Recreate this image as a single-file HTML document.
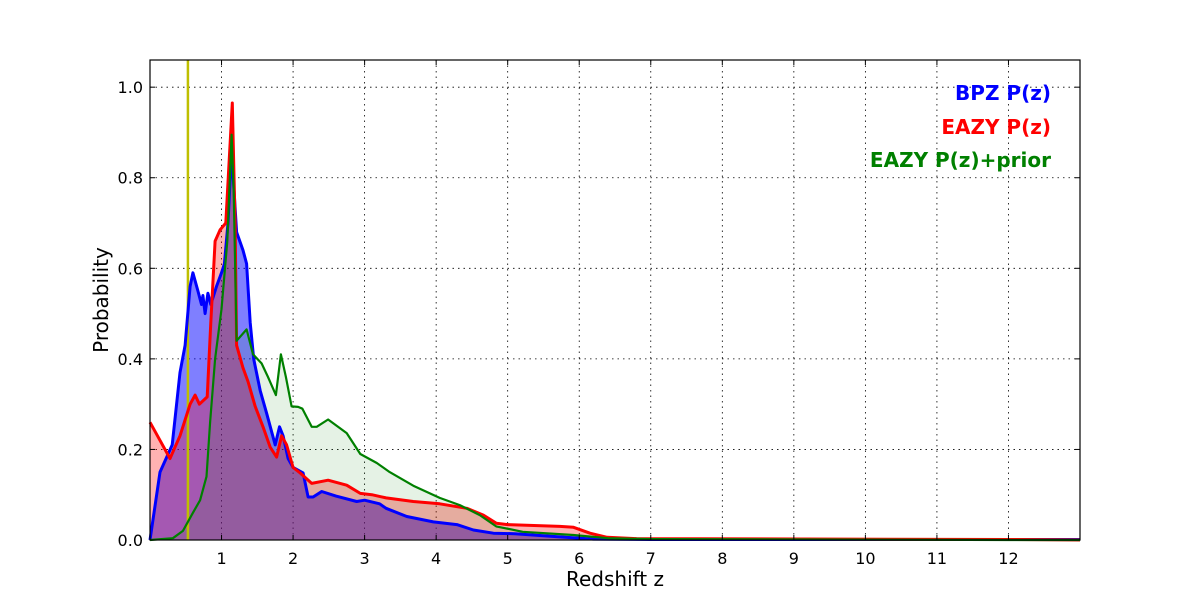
<!DOCTYPE html>
<html><head><meta charset="utf-8"><style>
html,body{margin:0;padding:0;background:#fff;}
svg{display:block;font-family:"DejaVu Sans","Liberation Sans",sans-serif;}
</style></head><body>
<svg id="chart" width="1200" height="600">
<rect x="0" y="0" width="1200" height="600" fill="#fff"/>
<g id="grid"></g>
<g id="fills"></g>
<g id="lines"></g>
<rect x="150" y="60" width="930" height="480" fill="none" stroke="#000" stroke-width="1.2"/>
<g id="ticks"></g>
<text x="615" y="586" font-size="20" text-anchor="middle">Redshift z</text>
<text x="108" y="300" font-size="20" text-anchor="middle" transform="rotate(-90 108 300)">Probability</text>
<text x="1051" y="100" font-size="20" font-weight="bold" fill="#0000ff" text-anchor="end">BPZ P(z)</text>
<text x="1051" y="134" font-size="20" font-weight="bold" fill="#ff0000" text-anchor="end">EAZY P(z)</text>
<text x="1051" y="167" font-size="20" font-weight="bold" fill="#008000" text-anchor="end">EAZY P(z)+prior</text>
</svg>
<script>
const xTicks=[1,2,3,4,5,6,7,8,9,10,11,12];
const yTicks=[0.0,0.2,0.4,0.6,0.8,1.0];
const zMarker=0.53;
const bpzZ=[0,0.14,0.31,0.42,0.49,0.56,0.6,0.67,0.72,0.74,0.77,0.81,0.85,0.93,1.0,1.04,1.09,1.14,1.21,1.3,1.35,1.4,1.45,1.54,1.63,1.75,1.81,1.86,1.93,2.0,2.14,2.21,2.28,2.4,2.6,2.89,3.0,3.21,3.3,3.59,3.96,4.29,4.52,4.8,5.1,5.7,6.2,7,13];
const bpzP=[0,0.15,0.21,0.37,0.43,0.56,0.59,0.55,0.52,0.54,0.5,0.545,0.52,0.56,0.59,0.61,0.70,0.86,0.68,0.64,0.61,0.48,0.40,0.33,0.28,0.21,0.25,0.23,0.18,0.16,0.148,0.095,0.095,0.107,0.097,0.085,0.088,0.08,0.07,0.052,0.04,0.034,0.022,0.015,0.014,0.007,0.002,0.001,0.001];
const eazyZ=[0,0.07,0.28,0.42,0.56,0.63,0.69,0.8,0.85,0.91,0.98,1.06,1.15,1.19,1.21,1.3,1.37,1.47,1.58,1.68,1.77,1.84,1.91,2.0,2.1,2.26,2.49,2.75,2.94,3.1,3.3,3.68,4.05,4.43,4.66,4.84,5.0,5.73,5.92,6.15,6.39,6.8,12,13];
const eazyP=[0.26,0.24,0.18,0.23,0.30,0.32,0.30,0.316,0.48,0.66,0.685,0.70,0.965,0.70,0.43,0.38,0.35,0.295,0.25,0.205,0.183,0.23,0.21,0.16,0.148,0.125,0.132,0.121,0.103,0.10,0.093,0.085,0.08,0.07,0.055,0.037,0.034,0.03,0.028,0.015,0.006,0.003,0.001,0];
const priorZ=[0,0.32,0.46,0.6,0.7,0.79,0.84,0.91,1.0,1.08,1.14,1.17,1.21,1.35,1.44,1.56,1.65,1.76,1.83,1.9,1.98,2.07,2.13,2.26,2.33,2.49,2.75,2.94,3.17,3.35,3.68,4.05,4.33,4.61,4.84,5.21,5.92,6.4,7,12,13];
const priorP=[0,0.004,0.02,0.06,0.088,0.14,0.26,0.40,0.51,0.66,0.895,0.77,0.44,0.465,0.41,0.39,0.36,0.32,0.41,0.36,0.295,0.294,0.29,0.25,0.25,0.266,0.236,0.19,0.17,0.15,0.12,0.093,0.077,0.055,0.03,0.018,0.011,0.004,0.002,0,0];

const X0=150,X1=1080,Y0=540,Y1=60,ZMAX=13,PMAX=1.06;
const sx=z=>X0+(z/ZMAX)*(X1-X0);
const sy=p=>Y0-(p/PMAX)*(Y0-Y1);
const NS='http://www.w3.org/2000/svg';
function mk(tag,attrs,parent){const e=document.createElementNS(NS,tag);for(const k in attrs)e.setAttribute(k,attrs[k]);parent.appendChild(e);return e;}
const grid=document.getElementById('grid'),ticks=document.getElementById('ticks'),fills=document.getElementById('fills'),lines=document.getElementById('lines');

xTicks.forEach(t=>{
  const g=mk('line',{x1:sx(t),x2:sx(t),y1:Y1,y2:Y0,stroke:'#000','stroke-width':0.8,'stroke-dasharray':'1.5,4'},grid);
  
  
  const tk=mk('line',{x1:sx(t),x2:sx(t),y1:Y0,y2:Y0-5,stroke:'#000','stroke-width':1},ticks);
  
  
  const tt=mk('line',{x1:sx(t),x2:sx(t),y1:Y1,y2:Y1+5,stroke:'#000','stroke-width':1},ticks);
  
  
  const l=mk('text',{x:sx(t),y:Y0+24,'font-size':16,'text-anchor':'middle'},ticks);
  l.textContent=String(t);
  
  
});
yTicks.forEach(t=>{
  if(t>0){
    const g=mk('line',{x1:X0,x2:X1,y1:sy(t),y2:sy(t),stroke:'#000','stroke-width':0.8,'stroke-dasharray':'1.5,4'},grid);
    
    
  }
  const tk=mk('line',{x1:X0,x2:X0+5,y1:sy(t),y2:sy(t),stroke:'#000','stroke-width':1},ticks);
  
  
  const tr=mk('line',{x1:X1,x2:X1-5,y1:sy(t),y2:sy(t),stroke:'#000','stroke-width':1},ticks);
  
  
  const l=mk('text',{x:X0-7,y:sy(t)+6,'font-size':16,'text-anchor':'end'},ticks);
  l.textContent=t.toFixed(1);
  
  
});

function linePts(zs,ps){return zs.map((z,i)=>sx(z).toFixed(1)+','+sy(ps[i]).toFixed(1)).join(' ');}
function fillPts(zs,ps){return sx(zs[0])+','+sy(0)+' '+linePts(zs,ps)+' '+sx(zs[zs.length-1])+','+sy(0);}
const series=[
  {z:bpzZ,p:bpzP,c:'#0000ff',a:0.5,n:'bpz'},
  {z:eazyZ,p:eazyP,c:'#ff0000',a:0.3,n:'eazy'},
  {z:priorZ,p:priorP,c:'#008000',a:0.1,n:'eazy-prior'}
];
series.forEach(s=>{
  const f=mk('polygon',{points:fillPts(s.z,s.p),fill:s.c,'fill-opacity':s.a,stroke:'none'},fills);
  
  
});
const mkLine=mk('line',{x1:sx(zMarker),x2:sx(zMarker),y1:Y1,y2:Y0,stroke:'#bfbf00','stroke-width':2.5},lines);


series.forEach(s=>{
  const l=mk('polyline',{points:linePts(s.z,s.p),fill:'none',stroke:s.c,'stroke-width':s.n==='eazy-prior'?2.2:3,'stroke-linejoin':'round'},lines);
  
  
});
</script>
</body></html>
